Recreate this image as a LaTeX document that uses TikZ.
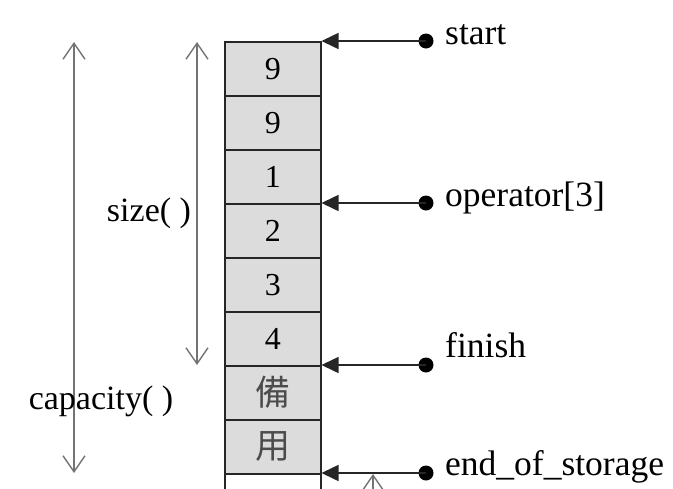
\documentclass[tikz,border=0pt]{standalone}
\usepackage{fontspec}
\setmainfont{Liberation Serif}
\newfontfamily\cjkfont{Noto Sans CJK TC}
\usetikzlibrary{arrows.meta}
\tikzset{
  cell/.style={draw=black!85, fill=cellgray, line width=1.5pt, minimum width=96pt, minimum height=54pt, inner sep=0pt, anchor=north west, font=\fontsize{32}{32}\selectfont, text=black},
  cjkcell/.style={cell, font=\cjkfont\fontsize{35}{35}\selectfont, text=black!70},
  dot/.style={circle, fill=black, minimum size=15pt, inner sep=0pt},
  lbl/.style={anchor=west, inner sep=0pt, font=\fontsize{35.5}{36}\selectfont},
  ptr/.style={draw=black!85, line width=1.5pt, -{Triangle[length=17pt,width=16pt]}},
  dim/.style={draw=black!55, line width=1.5pt, {Straight Barb[length=16pt,width=22pt,line width=1.4pt]}-{Straight Barb[length=16pt,width=22pt,line width=1.4pt]}},
  dimup/.style={draw=black!55, line width=1.5pt, -{Straight Barb[length=16pt,width=22pt,line width=1.4pt]}},
  side/.style={inner sep=0pt, font=\fontsize{34}{34}\selectfont}
}
\definecolor{cellgray}{HTML}{DCDCDC}
\begin{document}
\begin{tikzpicture}[x=1pt,y=-1pt]
\useasboundingbox (0,0) rectangle (673,488);
\clip (0,0) rectangle (673,488);
% cells
\node[cell] (c1) at (224,41) {9};
\node[cell] (c2) at (224,95) {9};
\node[cell] (c3) at (224,149) {1};
\node[cell] (c4) at (224,203) {2};
\node[cell] (c5) at (224,257) {3};
\node[cell] (c6) at (224,311) {4};
\node[cjkcell] (c7) at (224,365) {備};
\node[cjkcell] (c8) at (224,419) {用};
\node[cell, fill=white] (c9) at (224,473) {};
% pointers
\node[dot] (d1) at (426,41) {};
\node[dot] (d2) at (426,203) {};
\node[dot] (d3) at (426,365) {};
\node[dot] (d4) at (426,473) {};
\draw[ptr] (d1.center) -- (c1.north east);
\draw[ptr] (d2.center) -- (c4.north east);
\draw[ptr] (d3.center) -- (c7.north east);
\draw[ptr] (d4.center) -- (c9.north east);
\node[lbl] (l1) at (445,35) {start};
\node[lbl] (l2) at (445,198) {operator[3]};
\node[lbl] (l3) at (445,345) {finish};
\node[lbl] (l4) at (445,467) {end\_of\_storage};
% dimension arrows
\coordinate (capT) at (74,42);
\coordinate (capB) at (74,473);
\coordinate (sizT) at (197,42);
\coordinate (sizB) at (197,365);
\draw[dim] (capT) -- (capB);
\draw[dim] (sizT) -- (sizB);
\node[side] (cap) at (101,401) {capacity(\ )};
\node[side] (siz) at (149,213) {size(\ )};
\coordinate (eosB) at (373,500);
\coordinate (eosT) at (373,474);
\draw[dimup] (eosB) -- (eosT);
\end{tikzpicture}
\end{document}
